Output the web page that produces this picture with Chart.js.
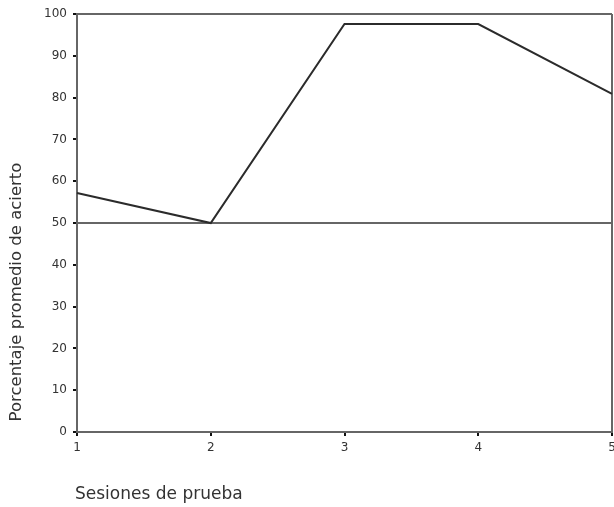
<!DOCTYPE html>
<html>
<head>
<meta charset="utf-8">
<script src="https://cdn.jsdelivr.net/npm/chart.js@4"></script>
<style>
html,body{margin:0;padding:0;background:#fff;}
#wrap{width:614px;height:507px;position:relative;}
</style>
</head>
<body>
<div id="wrap"><canvas id="c" width="614" height="507"></canvas></div>
<script>
const sessions = ['1', '2', '3', '4', '5'];
const accuracy = [57.2, 50, 97.6, 97.6, 80.9];
const yTicks = [0, 10, 20, 30, 40, 50, 60, 70, 80, 90, 100];
const xTitle = 'Sesiones de prueba';
const yTitle = 'Porcentaje promedio de acierto';

const titlePlugin = {
  id: 'titles',
  afterDraw(chart) {
    const ctx = chart.ctx;
    ctx.save();
    ctx.fillStyle = '#333';
    ctx.font = '16.5px "DejaVu Sans"';
    ctx.textBaseline = 'middle';
    ctx.textAlign = 'center';
    ctx.translate(17, 292);
    ctx.rotate(-Math.PI / 2);
    ctx.fillText(yTitle, 0, 0);
    ctx.restore();
    ctx.save();
    ctx.fillStyle = '#333';
    ctx.font = '17px "DejaVu Sans"';
    ctx.textBaseline = 'middle';
    ctx.textAlign = 'left';
    ctx.fillText(xTitle, 75, 495);
    ctx.restore();
  }
};

new Chart(document.getElementById('c'), {
  type: 'line',
  data: {
    labels: sessions,
    datasets: [{
      data: accuracy,
      borderColor: '#2b2b2b',
      borderWidth: 2,
      pointRadius: 0,
      tension: 0,
      fill: false
    }]
  },
  options: {
    responsive: false,
    animation: false,
    devicePixelRatio: 1,
    layout: { padding: { top: 14, right: 2, left: 0, bottom: 0 } },
    plugins: { legend: { display: false }, tooltip: { enabled: false } },
    scales: {
      x: {
        type: 'category',
        offset: false,
        border: { display: true, color: '#666', width: 2 },
        grid: {
          color: (c) => (c.index === sessions.length - 1 ? '#666' : 'rgba(0,0,0,0)'),
          lineWidth: 2,
          drawTicks: true,
          tickLength: 4,
          tickColor: '#111',
          tickWidth: 2
        },
        ticks: {
          color: '#333',
          font: { family: 'DejaVu Sans', size: 12 },
          padding: 5,
          maxRotation: 0
        },
        afterFit: (s) => { s.height = 75; s.paddingLeft = 0; s.paddingRight = 0; }
      },
      y: {
        type: 'linear',
        min: 0,
        max: 100,
        afterBuildTicks: (s) => { s.ticks = yTicks.map(v => ({ value: v })); },
        border: { display: true, color: '#666', width: 2 },
        grid: {
          color: (c) => (c.tick && (c.tick.value === 50 || c.tick.value === 100) ? '#666' : 'rgba(0,0,0,0)'),
          lineWidth: 2,
          drawTicks: true,
          tickLength: 4,
          tickColor: '#111',
          tickWidth: 2
        },
        ticks: {
          color: '#333',
          font: { family: 'DejaVu Sans', size: 12 },
          padding: 6
        },
        afterFit: (s) => { s.width = 77; }
      }
    }
  },
  plugins: [titlePlugin]
});
</script>
</body>
</html>
